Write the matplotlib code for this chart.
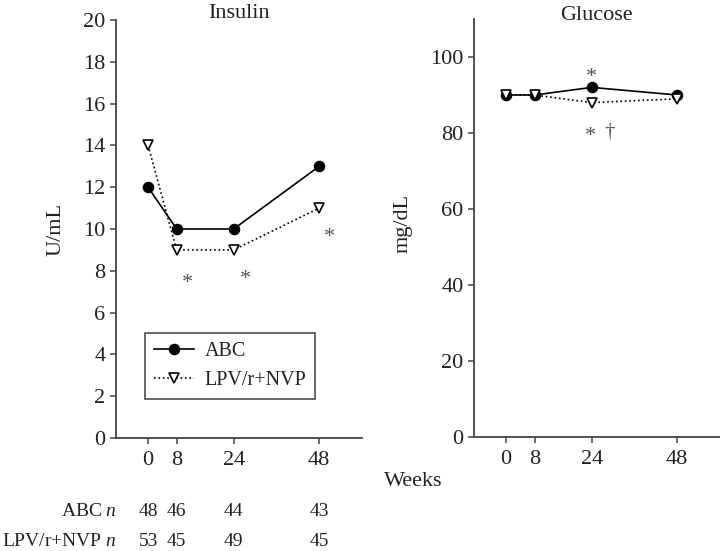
import matplotlib
matplotlib.use("Agg")
import matplotlib.pyplot as plt
from matplotlib.transforms import blended_transform_factory

plt.rcParams['font.family'] = ['Liberation Serif', 'DejaVu Serif']
plt.rcParams['mathtext.fontset'] = 'custom'
plt.rcParams['mathtext.it'] = 'Liberation Serif:italic'
plt.rcParams['mathtext.rm'] = 'Liberation Serif'

weeks = [0, 8, 24, 48]
week_labels = ['0', '8', '24', '48']
insulin_abc = [12, 10, 10, 13]
insulin_lpv = [14, 9, 9, 11]
glucose_abc = [90, 90, 92, 90]
glucose_lpv = [90, 90, 88, 89]
n_abc = [48, 46, 44, 43]
n_lpv = [53, 45, 49, 45]
series_names = ['ABC', 'LPV/r+NVP']

TXT = '#222222'
SP = '#444444'
STAR = '#555555'
FS = 16
FS_LEG = 14.5
FS_TAB = 14

fig = plt.figure(figsize=(7.2, 5.51), dpi=100)
axL = fig.add_axes([116/720, 1-438/551, (362-116)/720, (438-20)/551])
axR = fig.add_axes([474/720, 1-437/551, (720-474)/720, (437-19)/551])

def style(ax, ylim, yticks):
    ax.set_xlim(-9, 60)
    ax.set_ylim(*ylim)
    ax.set_xticks(weeks)
    ax.set_xticklabels(week_labels)
    ax.set_yticks(yticks)
    for s in ['top', 'right']:
        ax.spines[s].set_visible(False)
    for s in ['left', 'bottom']:
        ax.spines[s].set_color(SP)
        ax.spines[s].set_linewidth(1.3)
    ax.tick_params(axis='both', colors=SP, labelcolor=TXT, labelsize=FS,
                   length=4.5, width=1.1, pad=3)
    ax.tick_params(axis='x', pad=5)

style(axL, (0, 20), range(0, 21, 2))
style(axR, (0, 110), range(0, 101, 20))

abc_kw = dict(ls='-', color='black', marker='o', mfc='black', mec='black',
              ms=7.3, mew=1.0, lw=1.2, zorder=3)
lpv_kw = dict(ls=':', color='black', marker='v', mfc='white', mec='black',
              ms=7.3, mew=1.2, lw=1.2, zorder=4)
l1, = axL.plot(weeks, insulin_abc, **abc_kw)
l2, = axL.plot(weeks, insulin_lpv, **lpv_kw)
axR.plot(weeks, glucose_abc, **abc_kw)
axR.plot(weeks, glucose_lpv, **lpv_kw)

fig.text(239.5/720, 1-18.5/551, 'Insulin', fontsize=FS, color=TXT, ha='center', va='baseline')
fig.text(596/720, 1-19.5/551, 'Glucose', fontsize=FS, color=TXT, ha='center', va='baseline')
axL.set_ylabel('U/mL', fontsize=FS, color=TXT)
axL.yaxis.set_label_coords(-0.207, 0.5)
axR.set_ylabel('mg/dL', fontsize=FS, color=TXT)
axR.yaxis.set_label_coords(-0.25, 0.51)

# significance markers
star_kw = dict(fontsize=16, color=STAR, ha='center', va='center')
axL.text(11, 7.4, '*', **star_kw)
axL.text(27.2, 7.6, '*', **star_kw)
axL.text(50.8, 9.6, '*', **star_kw)
axR.text(24, 94.5, '*', **star_kw)
axR.text(23.7, 79, '*', **star_kw)
axR.text(29, 80, '\u2020', fontsize=15, color=STAR, ha='center', va='center')

leg = fig.legend([l1, l2], series_names, loc='upper left',
                 bbox_to_anchor=(145/720, 1-333/551), fontsize=FS_LEG,
                 borderaxespad=0, frameon=True, fancybox=False,
                 handlelength=2.0, handletextpad=0.5, borderpad=0.45,
                 labelspacing=0.5)
leg.get_frame().set_edgecolor('#222222')
leg.get_frame().set_linewidth(1.2)
for t in leg.get_texts():
    t.set_color(TXT)

fig.text(413/720, 1-482/551, 'Weeks', fontsize=FS, color=TXT, ha='center', va='center')

tr = blended_transform_factory(axL.transData, fig.transFigure)
fig.text(117/720, 1-511/551, r'ABC $n$', fontsize=FS_TAB, color=TXT, ha='right', va='center')
fig.text(117/720, 1-541/551, r'LPV/r+NVP $n$', fontsize=FS_TAB, color=TXT, ha='right', va='center')
for w, a, b in zip(weeks, n_abc, n_lpv):
    axL.text(w, 1-511/551, str(a), transform=tr, fontsize=FS_TAB, color=TXT,
             ha='center', va='center', clip_on=False)
    axL.text(w, 1-541/551, str(b), transform=tr, fontsize=FS_TAB, color=TXT,
             ha='center', va='center', clip_on=False)

fig.savefig('out.png', dpi=100)
